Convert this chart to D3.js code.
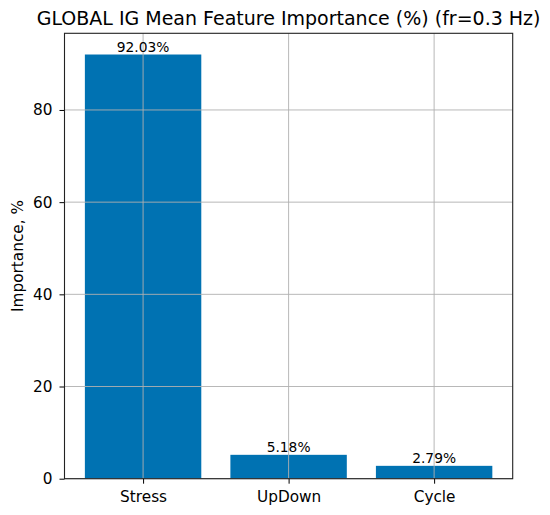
<!DOCTYPE html>
<html>
<head>
<meta charset="utf-8">
<script src="https://cdn.jsdelivr.net/npm/d3@7"></script>
<style>
  body { margin: 0; background: #fff; }
  text { font-family: "DejaVu Sans", sans-serif; fill: #000; }
</style>
</head>
<body>
<svg id="svg1" width="550" height="515"></svg>
<script>
// data
var features = ["Stress", "UpDown", "Cycle"];
var importance = [92.03, 5.18, 2.79];
var yTicks = [0, 20, 40, 60, 80];
var titleText = "GLOBAL IG Mean Feature Importance (%) (fr=0.3 Hz)";

// plot box ("top" is taken by window.top, so use other names)
var plotL = 64.5, plotR = 512.7, plotT = 33.3, plotB = 478.7;

var svg = d3.select("#svg1");

// bars sit at 0,1,2 with width 0.8, axis padded 5% like matplotlib
var x = d3.scaleLinear()
    .domain([-0.54, 2.54])
    .range([plotL, plotR]);

var y = d3.scaleLinear()
    .domain([0, d3.max(importance) * 1.05])
    .range([plotB, plotT]);

// bars
svg.selectAll("rect.bar")
    .data(importance)
    .enter()
    .append("rect")
    .attr("class", "bar")
    .attr("x", function(d, i) { return x(i - 0.4); })
    .attr("width", function(d, i) { return x(i + 0.4) - x(i - 0.4); })
    .attr("y", function(d) { return y(d); })
    .attr("height", function(d) { return y(0) - y(d); })
    .attr("fill", "#0072b2");

// grid, drawn over the bars
var grid = svg.append("g").attr("stroke", "#b0b0b0").attr("stroke-width", 0.9);
grid.selectAll("line.gx")
    .data(features)
    .enter()
    .append("line")
    .attr("x1", function(d, i) { return x(i); })
    .attr("x2", function(d, i) { return x(i); })
    .attr("y1", plotT)
    .attr("y2", plotB);
grid.selectAll("line.gy")
    .data(yTicks)
    .enter()
    .append("line")
    .attr("x1", plotL)
    .attr("x2", plotR)
    .attr("y1", function(d) { return y(d); })
    .attr("y2", function(d) { return y(d); });

// axes
var xAxis = d3.axisBottom(x)
    .tickValues([0, 1, 2])
    .tickFormat(function(d) { return features[d]; })
    .tickSize(5)
    .tickPadding(7);
var yAxis = d3.axisLeft(y)
    .tickValues(yTicks)
    .tickSize(5)
    .tickPadding(7);

var gx = svg.append("g")
    .attr("transform", "translate(0," + plotB + ")")
    .call(xAxis);
var gy = svg.append("g")
    .attr("transform", "translate(" + plotL + ",0)")
    .call(yAxis);

[gx, gy].forEach(function(g) {
    g.select(".domain").remove();
    g.selectAll("line").attr("stroke", "#000").attr("stroke-width", 1);
    g.selectAll("text")
        .attr("font-family", "DejaVu Sans, sans-serif")
        .attr("font-size", 15.3)
        .attr("fill", "#000");
});

// frame
svg.append("rect")
    .attr("x", plotL)
    .attr("y", plotT)
    .attr("width", plotR - plotL)
    .attr("height", plotB - plotT)
    .attr("fill", "none")
    .attr("stroke", "#222")
    .attr("stroke-width", 1.1);

// value labels
svg.selectAll("text.val")
    .data(importance)
    .enter()
    .append("text")
    .attr("class", "val")
    .attr("x", function(d, i) { return x(i); })
    .attr("y", function(d) { return y(d) - 2.5; })
    .attr("text-anchor", "middle")
    .attr("font-size", 13.8)
    .text(function(d) { return d.toFixed(2) + "%"; });

// title and y label
svg.append("text")
    .attr("x", (plotL + plotR) / 2)
    .attr("y", 25)
    .attr("text-anchor", "middle")
    .attr("font-size", 19)
    .text(titleText);

svg.append("text")
    .attr("transform", "translate(22.5," + (plotT + plotB) / 2 + ") rotate(-90)")
    .attr("text-anchor", "middle")
    .attr("font-size", 15.3)
    .text("Importance, %");
</script>
</body>
</html>
